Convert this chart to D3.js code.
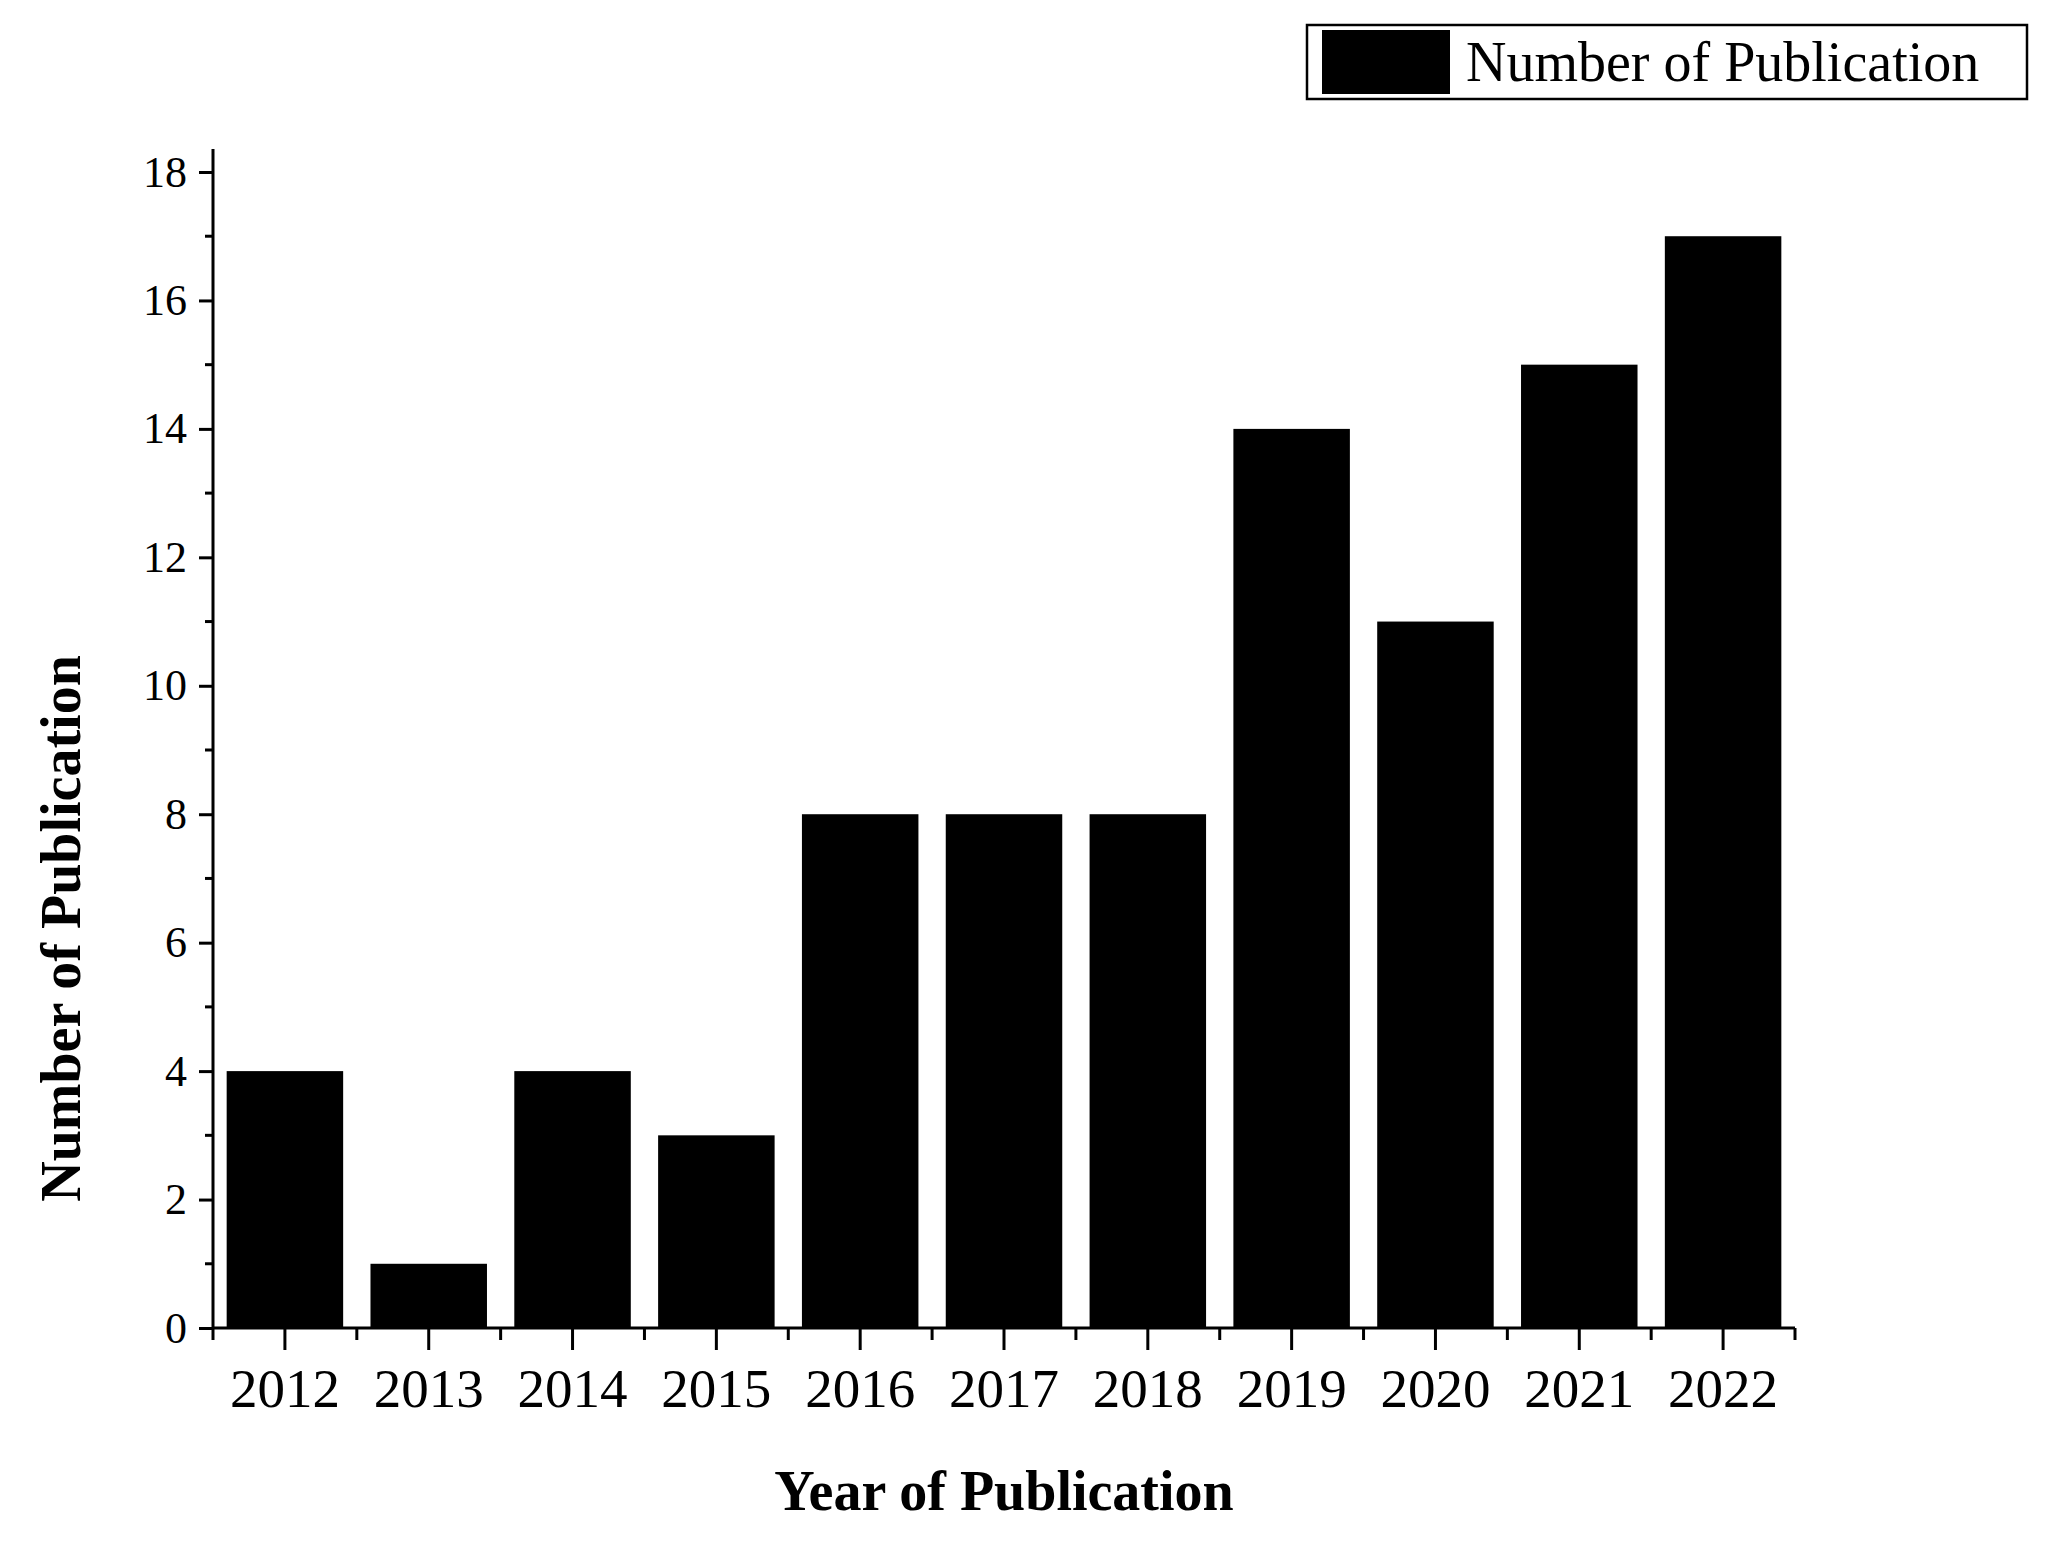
<!DOCTYPE html>
<html>
<head>
<meta charset="utf-8">
<script src="https://cdn.jsdelivr.net/npm/d3@7"></script>
<style>
  body { margin: 0; background: #fff; }
  text { font-family: "Liberation Serif", "Times New Roman", serif; }
</style>
</head>
<body>
<svg id="chart" width="2070" height="1550"></svg>
<script>
const years = ["2012", "2013", "2014", "2015", "2016", "2017", "2018", "2019", "2020", "2021", "2022"];
const counts = [4, 1, 4, 3, 8, 8, 8, 14, 11, 15, 17];
const yTicks = [0, 2, 4, 6, 8, 10, 12, 14, 16, 18];

const plotLeft = 213, plotRight = 1795, plotBottom = 1328, plotTop = 172;
const svg = d3.select("#chart");

const x = d3.scaleBand().domain(years).range([plotLeft, plotRight])
    .paddingInner(0.19).paddingOuter(0.095);
const y = d3.scaleLinear().domain([0, 18]).range([plotBottom, plotTop]);

// bars
svg.append("g").selectAll("rect")
  .data(years.map((d, i) => ({ year: d, n: counts[i] })))
  .join("rect")
  .attr("x", d => x(d.year))
  .attr("y", d => y(d.n))
  .attr("width", x.bandwidth())
  .attr("height", d => plotBottom - y(d.n))
  .attr("fill", "#000");

// y axis
const yAxis = svg.append("g").attr("transform", `translate(${plotLeft},0)`)
  .call(d3.axisLeft(y).tickValues(yTicks).tickSize(14).tickPadding(12).tickSizeOuter(0));
yAxis.select(".domain").remove();
yAxis.selectAll("text").attr("font-size", 44).attr("font-family", "Liberation Serif");
yAxis.selectAll("line").attr("stroke-width", 3);
svg.append("g").selectAll("line")
  .data(d3.range(1, 18, 2))
  .join("line")
  .attr("x1", plotLeft - 8).attr("x2", plotLeft)
  .attr("y1", d => y(d)).attr("y2", d => y(d))
  .attr("stroke", "#000").attr("stroke-width", 3);
svg.append("line")
  .attr("x1", plotLeft).attr("x2", plotLeft).attr("y1", 149).attr("y2", plotBottom)
  .attr("stroke", "#000").attr("stroke-width", 3);

// x axis
const xAxis = svg.append("g").attr("transform", `translate(0,${plotBottom})`)
  .call(d3.axisBottom(x).tickSize(22).tickPadding(18).tickSizeOuter(0));
xAxis.select(".domain").remove();
xAxis.selectAll("text").attr("font-size", 55).attr("font-family", "Liberation Serif");
xAxis.selectAll("line").attr("stroke-width", 3);
const step = x.step();
svg.append("g").selectAll("line")
  .data(d3.range(years.length + 1))
  .join("line")
  .attr("x1", i => x(years[0]) + x.bandwidth() / 2 - step / 2 + i * step)
  .attr("x2", i => x(years[0]) + x.bandwidth() / 2 - step / 2 + i * step)
  .attr("y1", plotBottom).attr("y2", plotBottom + 12)
  .attr("stroke", "#000").attr("stroke-width", 3);
svg.append("line")
  .attr("x1", plotLeft).attr("x2", plotRight).attr("y1", plotBottom).attr("y2", plotBottom)
  .attr("stroke", "#000").attr("stroke-width", 3);

// axis titles
svg.append("text")
  .attr("x", (plotLeft + plotRight) / 2).attr("y", 1510)
  .attr("text-anchor", "middle")
  .attr("font-size", 56).attr("font-weight", "bold")
  .text("Year of Publication");
svg.append("text")
  .attr("transform", `translate(80,${(149 + plotBottom) / 2 + 190}) rotate(-90)`)
  .attr("text-anchor", "middle")
  .attr("font-size", 56).attr("font-weight", "bold")
  .text("Number of Publication");

// legend
svg.append("rect")
  .attr("x", 1307).attr("y", 25).attr("width", 720).attr("height", 74)
  .attr("fill", "#fff").attr("stroke", "#000").attr("stroke-width", 2.5);
svg.append("rect")
  .attr("x", 1322).attr("y", 30).attr("width", 128).attr("height", 64)
  .attr("fill", "#000");
svg.append("text")
  .attr("x", 1466).attr("y", 81)
  .attr("font-size", 56)
  .text("Number of Publication");
</script>
</body>
</html>
